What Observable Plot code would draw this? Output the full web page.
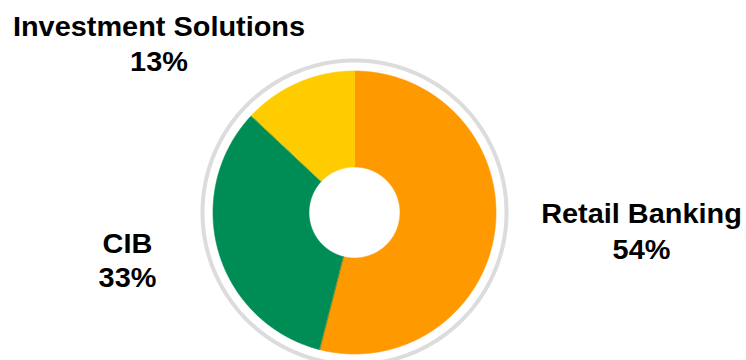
<!DOCTYPE html>
<html><head><meta charset="utf-8">
<script src="https://cdn.jsdelivr.net/npm/d3@7"></script>
<script src="https://cdn.jsdelivr.net/npm/@observablehq/plot@0.6"></script>
<style>html,body{margin:0;padding:0;background:#fff;overflow:hidden} svg{display:block}</style>
</head><body><div id="chart"></div>
<script>
// ---- data ----
const segments = ["Retail Banking", "CIB", "Investment Solutions"];
const shares = [54, 33, 13];
const colors = ["#FF9900", "#008C55", "#FFCC00"];

// ---- layout ----
const W = 746, H = 360;
const cx = 354, cy = 212;            // donut centre in pixels
const R = 141.5, R0 = 45.5, ringR = 152;
// label layout: pixel centre x, baseline of name line, baseline of percent line
const labelAt = {
  "Retail Banking": [641, 222, 258],
  "CIB": [127, 252, 286],
  "Investment Solutions": [158.5, 35, 70]
};
const fs = 27;

const rows = segments.map((name, i) => ({name, share: shares[i]}));
const arcs = d3.pie().sort(null).value(d => d.share)(rows);

const slicePts = [];
for (const a of arcs) {
  const n = Math.max(4, Math.ceil((a.endAngle - a.startAngle) / 0.005));
  for (let k = 0; k <= n; k++) {
    const t = a.startAngle + (a.endAngle - a.startAngle) * k / n;
    slicePts.push({name: a.data.name, x: R * Math.sin(t), y: R * Math.cos(t)});
  }
  for (let k = n; k >= 0; k--) {
    const t = a.startAngle + (a.endAngle - a.startAngle) * k / n;
    slicePts.push({name: a.data.name, x: R0 * Math.sin(t), y: R0 * Math.cos(t)});
  }
}
const ringPts = d3.range(0, 721).map(k => {
  const t = k / 720 * 2 * Math.PI;
  return {x: ringR * Math.sin(t), y: ringR * Math.cos(t)};
});

const off = 0.32 * fs; // lineAnchor "middle" shifts baseline down by 0.32em
const labels = rows.map(d => ({
  name: d.name,
  pct: d.share + "%",
  x: labelAt[d.name][0] - cx,
  y1: cy - (labelAt[d.name][1] - off),
  y2: cy - (labelAt[d.name][2] - off)
}));

const font = {fontFamily: "Liberation Sans, Arial, sans-serif", fontWeight: "bold", fontSize: fs, fill: "#000", textAnchor: "middle", lineAnchor: "middle"};

const plot = Plot.plot({
  width: W, height: H,
  margin: 0,
  x: {domain: [-cx, W - cx], axis: null},
  y: {domain: [-(H - cy), cy], axis: null},
  color: {domain: segments, range: colors},
  style: {background: "#fff"},
  marks: [
    Plot.line(ringPts, {x: "x", y: "y", stroke: "#DCDCDC", strokeWidth: 4, fill: "none"}),
    Plot.line(slicePts, {x: "x", y: "y", z: "name", fill: "name", stroke: "name", strokeWidth: 0.6, curve: "linear-closed"}),
    Plot.text(labels, {x: "x", y: "y1", text: "name", ...font, className: "lbl"}),
    Plot.text(labels, {x: "x", y: "y2", text: "pct", ...font, className: "lbl"})
  ]
});
document.getElementById("chart").appendChild(plot);
// slight horizontal widening of the label glyphs, as in the reference
plot.querySelectorAll("g.lbl text").forEach(t => {
  const len = t.getComputedTextLength();
  t.setAttribute("textLength", (len * 1.07).toFixed(1));
  t.setAttribute("lengthAdjust", "spacingAndGlyphs");
});
</script></body></html>
